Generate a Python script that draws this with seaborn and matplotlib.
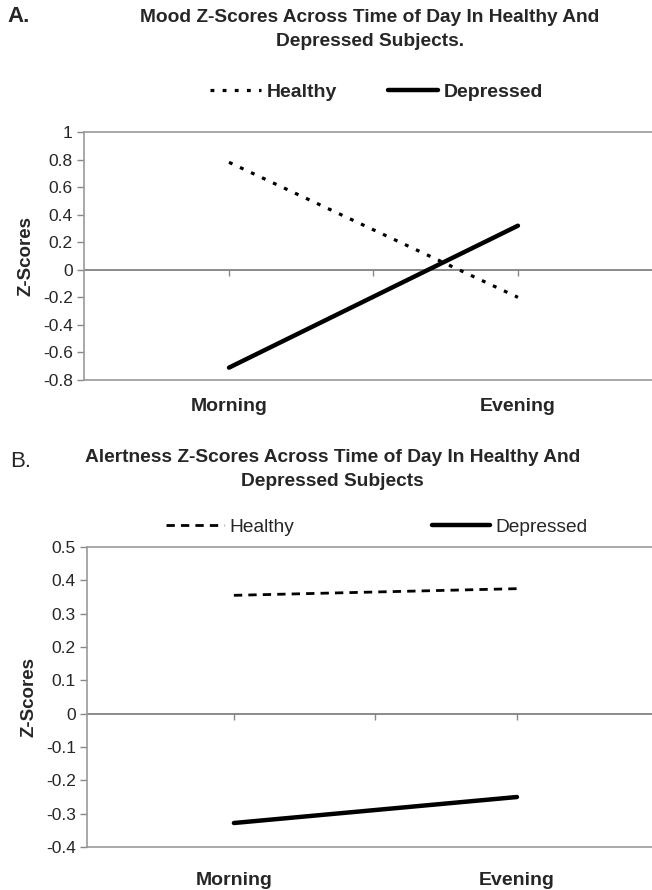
import numpy as np
import pandas as pd
import matplotlib
matplotlib.use("Agg")
import matplotlib.pyplot as plt
import seaborn as sns

times = ["Morning", "Evening"]
groups = ["Healthy", "Depressed"]

# panel A - mood
mood_healthy = [0.78, -0.20]
mood_depressed = [-0.71, 0.32]

# panel B - alertness
alert_healthy = [0.355, 0.375]
alert_depressed = [-0.328, -0.25]

sns.set_style("white")
plt.rcParams['font.family'] = ['Liberation Sans', 'DejaVu Sans']

fig = plt.figure(figsize=(6.52, 8.9), dpi=100)

def make_df(healthy, depressed):
    rows = []
    for g, vals in zip(groups, [healthy, depressed]):
        for i, t in enumerate(times):
            rows.append({"time": t, "pos": i, "group": g, "z": vals[i]})
    return pd.DataFrame(rows)

def draw_panel(ax, df, yticks, xlim, healthy_dash, healthy_lw, labpad):
    h = df[df.group == "Healthy"]
    d = df[df.group == "Depressed"]
    sns.lineplot(data=h, x="pos", y="z", ax=ax, color="black", lw=healthy_lw, label="Healthy")
    ax.lines[-1].set_dashes(healthy_dash)
    sns.lineplot(data=d, x="pos", y="z", ax=ax, color="black", lw=3.2, label="Depressed")
    ax.axhline(0, color="#777777", lw=1.2, zorder=1)
    ax.set_ylim(yticks[0], yticks[-1])
    ax.set_xlim(*xlim)
    ax.set_yticks(yticks)
    ax.set_yticklabels(["%g" % round(v, 1) for v in yticks], fontsize=12.5)
    ax.set_xticks([0, 1])
    ax.set_xticklabels(times, fontsize=14, fontweight="bold")
    ax.tick_params(axis="x", length=0, pad=labpad)
    ax.tick_params(axis="y", length=5, width=1, color="#888888", direction="out", pad=3, left=True)
    for s in ["left", "top", "bottom"]:
        ax.spines[s].set_color("#999999")
        ax.spines[s].set_linewidth(1.2)
    ax.spines["right"].set_visible(False)
    ax.set_xlabel("")
    ax.set_ylabel("Z-Scores", fontsize=13.5, fontweight="bold", labelpad=6)
    # small tick marks sitting on the zero line
    sec = ax.secondary_xaxis(0, transform=ax.transData)
    sec.set_xticks([0, 0.5, 1])
    sec.set_xticklabels([])
    sec.tick_params(length=4, width=1, color="#888888", direction="out")
    sec.spines["bottom"].set_visible(False)
    leg = ax.get_legend()
    if leg is not None:
        leg.remove()

# Panel A
axA = fig.add_axes([0.1288, 0.5730, 0.8712, 0.2787])
dfA = make_df(mood_healthy, mood_depressed)
draw_panel(axA, dfA, [-0.8, -0.6, -0.4, -0.2, 0, 0.2, 0.4, 0.6, 0.8, 1.0],
           (-0.502, 1.464), (1.2, 2.6), 2.3, 13)
hA, lA = axA.get_legend_handles_labels()
fig.legend(hA, lA, loc="center", bbox_to_anchor=(0.578, 0.8966), ncol=2, frameon=False,
           prop={"size": 14, "weight": "bold"}, handlelength=2.6, handletextpad=0.3,
           columnspacing=2.6)
fig.text(0.567, 0.9669, "Mood Z-Scores Across Time of Day In Healthy And\nDepressed Subjects.",
         ha="center", va="center", fontsize=13.8, fontweight="bold", linespacing=1.5)
fig.text(0.012, 0.981, "A.", ha="left", va="center", fontsize=16, fontweight="bold")

# Panel B
axB = fig.add_axes([0.1334, 0.0483, 0.8666, 0.3371])
dfB = make_df(alert_healthy, alert_depressed)
draw_panel(axB, dfB, [-0.4, -0.3, -0.2, -0.1, 0, 0.1, 0.2, 0.3, 0.4, 0.5],
           (-0.519, 1.477), (3.0, 2.2), 2.0, 18)
hB, lB = axB.get_legend_handles_labels()
fig.legend(hB, lB, loc="center", bbox_to_anchor=(0.578, 0.4079), ncol=2, frameon=False,
           prop={"size": 13.8}, handlelength=3.0, handletextpad=0.3, columnspacing=7.2)
fig.text(0.51, 0.4725, "Alertness Z-Scores Across Time of Day In Healthy And\nDepressed Subjects",
         ha="center", va="center", fontsize=13.8, fontweight="bold", linespacing=1.5)
fig.text(0.015, 0.481, "B.", ha="left", va="center", fontsize=16)

fig.savefig("out.png", dpi=100)
